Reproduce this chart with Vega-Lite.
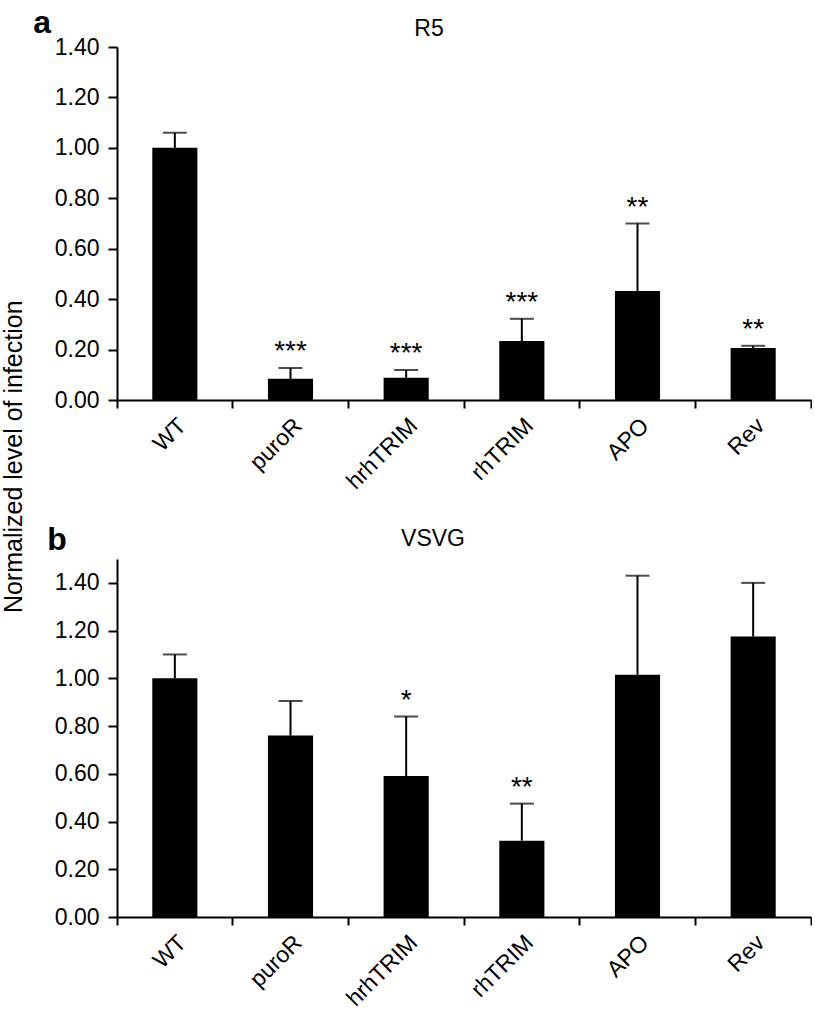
{
  "$schema": "https://vega.github.io/schema/vega-lite/v6.json",
  "padding": {"left": 2, "top": 7, "right": 0, "bottom": 0},
  "title": {"text": "Normalized level of infection", "orient": "left", "anchor": "middle", "fontSize": 25, "fontWeight": "normal", "offset": 6, "dx": 52},
  "datasets": {
    "r5": [
      {"cat": "WT", "value": 1.0, "upper": 1.06, "sig": ""},
      {"cat": "puroR", "value": 0.084, "upper": 0.127, "sig": "***"},
      {"cat": "hrhTRIM", "value": 0.088, "upper": 0.119, "sig": "***"},
      {"cat": "rhTRIM", "value": 0.234, "upper": 0.322, "sig": "***"},
      {"cat": "APO", "value": 0.432, "upper": 0.70, "sig": "**"},
      {"cat": "Rev", "value": 0.206, "upper": 0.215, "sig": "**"}
    ],
    "vsvg": [
      {"cat": "WT", "value": 1.0, "upper": 1.10, "sig": ""},
      {"cat": "puroR", "value": 0.76, "upper": 0.905, "sig": ""},
      {"cat": "hrhTRIM", "value": 0.591, "upper": 0.84, "sig": "*"},
      {"cat": "rhTRIM", "value": 0.32, "upper": 0.475, "sig": "**"},
      {"cat": "APO", "value": 1.015, "upper": 1.43, "sig": ""},
      {"cat": "Rev", "value": 1.175, "upper": 1.40, "sig": ""}
    ]
  },
  "spacing": 29,
  "vconcat": [
    {
      "title": {"text": "a", "anchor": "start", "frame": "bounds", "fontSize": 32, "fontWeight": "bold", "dx": -21, "dy": 26},
      "vconcat": [
        {
          "title": {"text": "R5", "anchor": "middle", "fontSize": 23, "offset": -5, "dx": -35},
          "width": 694,
          "height": 353,
          "data": {"name": "r5"},
          "encoding": {
            "x": {"field": "cat", "type": "nominal", "sort": null,
                  "scale": {"paddingInner": 0, "paddingOuter": 0},
                  "axis": {"title": null, "bandPosition": 1, "tickExtra": true, "labelAngle": -45, "tickSize": 8, "labelPadding": 6}}
          },
          "layer": [
            {"mark": {"type": "bar", "color": "black", "width": {"band": 0.39}},
             "encoding": {"y": {"field": "value", "type": "quantitative", "scale": {"domain": [0, 1.4], "nice": false},
                                "axis": {"title": null, "values": [0, 0.2, 0.4, 0.6, 0.8, 1.0, 1.2, 1.4], "format": ".2f", "tickSize": 9, "labelPadding": 9}}}},
            {"mark": {"type": "rule", "color": "black", "strokeWidth": 2},
             "encoding": {"y": {"field": "value", "type": "quantitative"}, "y2": {"field": "upper"}}},
            {"mark": {"type": "tick", "color": "black", "size": 24, "thickness": 2},
             "encoding": {"y": {"field": "upper", "type": "quantitative"}}},
            {"mark": {"type": "text", "fontSize": 28, "baseline": "alphabetic", "dy": -8, "color": "black"},
             "encoding": {"y": {"field": "upper", "type": "quantitative"}, "text": {"field": "sig"}}}
          ]
        }
      ]
    },
    {
      "title": {"text": "b", "anchor": "start", "frame": "bounds", "fontSize": 32, "fontWeight": "bold", "dx": -7, "dy": 33},
      "vconcat": [
        {
          "title": {"text": "VSVG", "anchor": "middle", "fontSize": 23, "offset": -5, "dx": -31},
          "width": 694,
          "height": 358,
          "data": {"name": "vsvg"},
          "encoding": {
            "x": {"field": "cat", "type": "nominal", "sort": null,
                  "scale": {"paddingInner": 0, "paddingOuter": 0},
                  "axis": {"title": null, "bandPosition": 1, "tickExtra": true, "labelAngle": -45, "tickSize": 8, "labelPadding": 6}}
          },
          "layer": [
            {"mark": {"type": "bar", "color": "black", "width": {"band": 0.39}},
             "encoding": {"y": {"field": "value", "type": "quantitative", "scale": {"domain": [0, 1.5], "nice": false},
                                "axis": {"title": null, "values": [0, 0.2, 0.4, 0.6, 0.8, 1.0, 1.2, 1.4], "format": ".2f", "tickSize": 9, "labelPadding": 9}}}},
            {"mark": {"type": "rule", "color": "black", "strokeWidth": 2},
             "encoding": {"y": {"field": "value", "type": "quantitative"}, "y2": {"field": "upper"}}},
            {"mark": {"type": "tick", "color": "black", "size": 24, "thickness": 2},
             "encoding": {"y": {"field": "upper", "type": "quantitative"}}},
            {"mark": {"type": "text", "fontSize": 28, "baseline": "alphabetic", "dy": -8, "color": "black"},
             "encoding": {"y": {"field": "upper", "type": "quantitative"}, "text": {"field": "sig"}}}
          ]
        }
      ]
    }
  ],
  "config": {
    "font": "Liberation Sans",
    "view": {"stroke": null},
    "axis": {"domainColor": "black", "domainWidth": 2, "tickColor": "black", "tickWidth": 2, "labelColor": "black", "labelFontSize": 23, "grid": false},
    "title": {"color": "black", "fontWeight": "normal"}
  }
}
